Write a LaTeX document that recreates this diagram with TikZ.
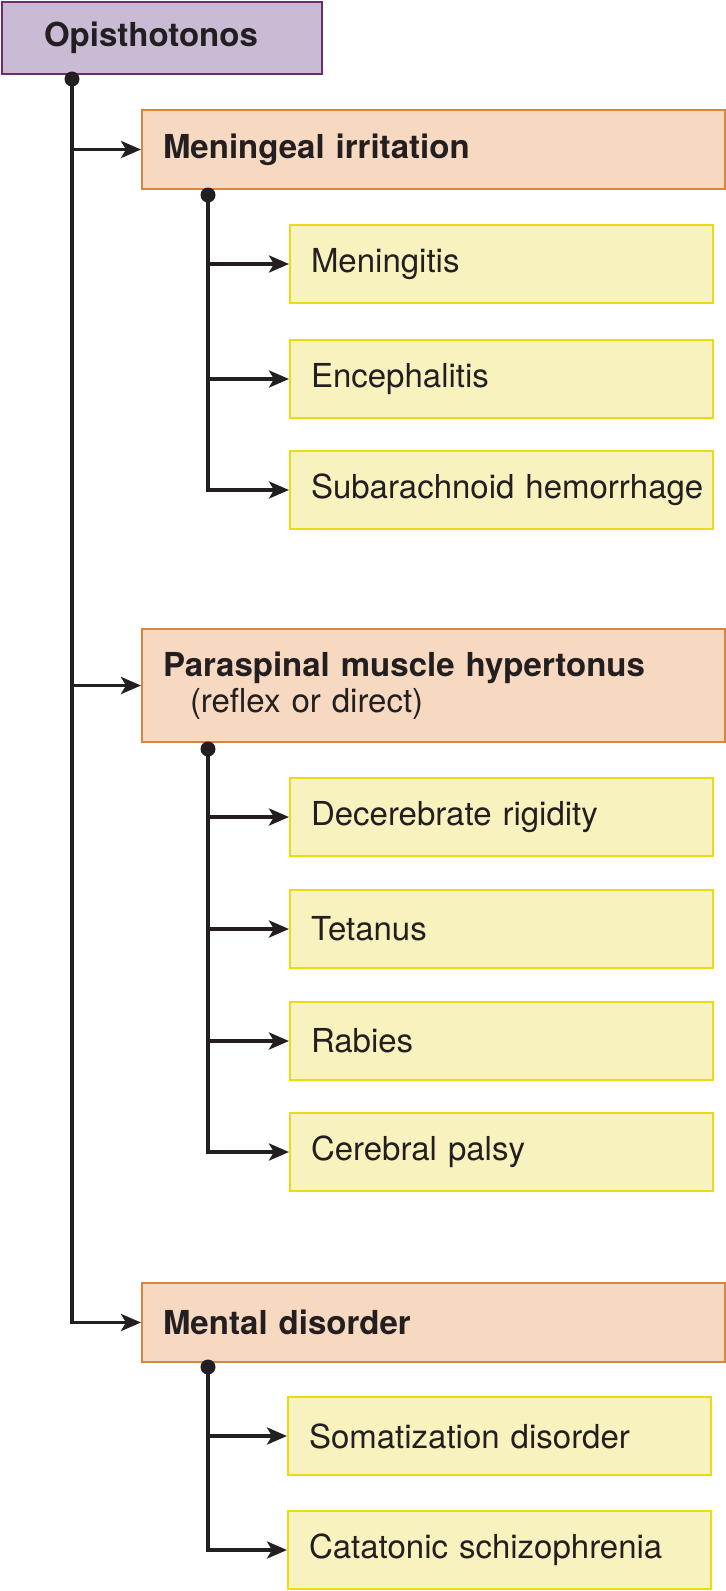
\documentclass[tikz,border=0pt]{standalone}
\usepackage{fontspec}
\setmainfont{TeX Gyre Heros}
\usepackage{xcolor}
\usepackage{tikz}
\usetikzlibrary{arrows.meta,positioning}
\definecolor{linedark}{HTML}{231F20}
\definecolor{softpurple}{HTML}{C9BBD3}
\definecolor{purpleaccent}{HTML}{6C2C6F}
\definecolor{softorange}{HTML}{F6D9C0}
\definecolor{orangeaccent}{HTML}{D8853F}
\definecolor{softyellow}{HTML}{F7F2BE}
\definecolor{yellowaccent}{HTML}{E9DB14}
\tikzset{
  block/.style={draw, anchor=north west, align=left, inner ysep=0pt, line width=1pt, text=linedark, font=\fontsize{16.5}{18}\selectfont},
  btop/.style={block, fill=softpurple, draw=purpleaccent, inner xsep=21pt, text width=118pt, minimum height=36pt, font=\fontsize{16.5}{18}\selectfont\bfseries},
  bcause/.style={block, fill=softorange, draw=orangeaccent, inner xsep=10.5pt, text width=270.5pt, minimum height=39.5pt},
  bitem/.style={block, fill=softyellow, draw=yellowaccent, inner xsep=2.75pt, text width=206pt, minimum height=39pt, execute at begin node={\hspace*{7.75pt}}},
  dot/.style={circle, fill=linedark, inner sep=0pt, minimum size=7.5pt},
  trunk/.style={draw=linedark, line width=1.8pt},
  arrow/.style={trunk, -{Stealth[length=10pt, width=8.5pt, inset=2.5pt]}}
}

\begin{document}
\begin{tikzpicture}[x=0.5pt,y=-0.5pt]
  \useasboundingbox (0,0) rectangle (725,1591);

  \node[btop] (opis) at (1,1) {Opisthotonos};

  \node[bcause] (mening) at (141,109) {\textbf{Meningeal irritation}};
  \node[bitem] (mgitis) at (289,224) {Meningitis};
  \node[bitem] (enceph) at (289,339) {Encephalitis};
  \node[bitem] (subar) at (289,450) {Subarachnoid hemorrhage};

  \node[bcause, minimum height=56.5pt] (parasp) at (141,628) {\textbf{Paraspinal muscle hypertonus}\\\hspace*{13.5pt}(reflex or direct)};
  \node[bitem] (decer) at (289,777) {Decerebrate rigidity};
  \node[bitem] (tetan) at (289,889) {Tetanus};
  \node[bitem] (rabies) at (289,1001) {Rabies};
  \node[bitem] (palsy) at (289,1112) {Cerebral palsy};

  \node[bcause] (mental) at (141,1282) {\textbf{Mental disorder}};
  \node[bitem] (somat) at (287,1396) {Somatization disorder};
  \node[bitem] (catat) at (287,1510) {Catatonic schizophrenia};

  \node[dot] (d0) at (72,79) {};
  \node[dot] (d1) at (208,195) {};
  \node[dot] (d2) at (208,749) {};
  \node[dot] (d3) at (208,1367) {};

  % main trunk
  \draw[arrow] (d0.center) |- (mental.west);
  \draw[arrow] (d0 |- mening.west) -- (mening.west);
  \draw[arrow] (d0 |- parasp.west) -- (parasp.west);

  % meningeal irritation
  \draw[arrow] (d1.center) |- (subar.west);
  \draw[arrow] (d1 |- mgitis.west) -- (mgitis.west);
  \draw[arrow] (d1 |- enceph.west) -- (enceph.west);

  % paraspinal hypertonus
  \draw[arrow] (d2.center) |- (palsy.west);
  \draw[arrow] (d2 |- decer.west) -- (decer.west);
  \draw[arrow] (d2 |- tetan.west) -- (tetan.west);
  \draw[arrow] (d2 |- rabies.west) -- (rabies.west);

  % mental disorder
  \draw[arrow] (d3.center) |- (catat.west);
  \draw[arrow] (d3 |- somat.west) -- (somat.west);
\end{tikzpicture}
\end{document}
